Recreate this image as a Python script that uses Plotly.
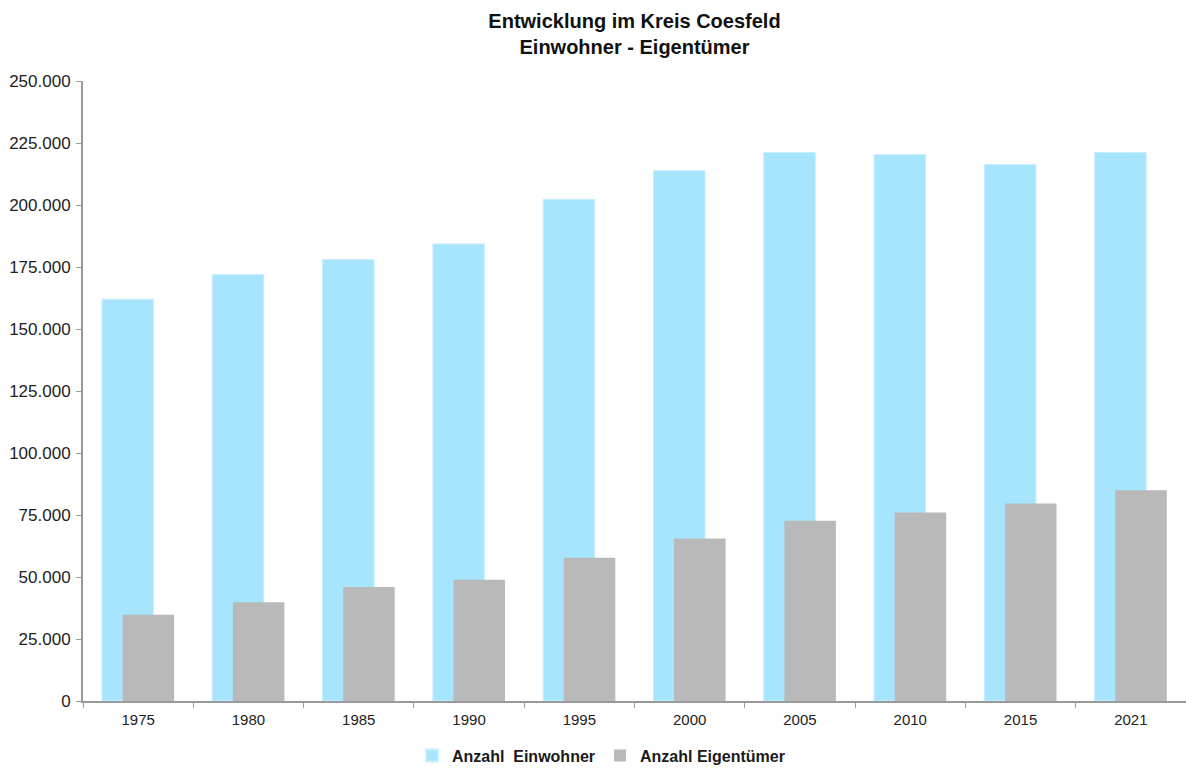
import plotly.graph_objects as go

# Einwohner and Eigentümer in Kreis Coesfeld
jahre = ["1975", "1980", "1985", "1990", "1995", "2000", "2005", "2010", "2015", "2021"]
einwohner = [162000, 172000, 178000, 184300, 202300, 213800, 221200, 220300, 216300, 221200]
eigentuemer = [34800, 39800, 46000, 48900, 57800, 65500, 72700, 76000, 79600, 85000]

blau = "#A7E4FE"
grau = "#B9B9B9"
font_family = "Liberation Sans, Arial, sans-serif"

fig = go.Figure()
fig.add_trace(go.Bar(
    x=jahre, y=einwohner, name="<b>Anzahl  Einwohner</b>",
    marker=dict(color=blau, line=dict(color="#C9EEFF", width=1)),
    width=0.467, offset=-0.328,
))
fig.add_trace(go.Bar(
    x=jahre, y=eigentuemer, name="<b>Anzahl Eigentümer</b>",
    marker=dict(color=grau, line=dict(width=0)),
    width=0.467, offset=-0.141,
))

fig.update_layout(
    width=1186, height=769,
    barmode="overlay",
    separators=",.",
    paper_bgcolor="white", plot_bgcolor="white",
    margin=dict(l=83, r=0, t=81, b=68, autoexpand=False),
    font=dict(family=font_family, color="#222"),
    title=dict(
        text="<b>Entwicklung im Kreis Coesfeld<br>Einwohner - Eigentümer</b>",
        x=0.5, xref="paper", xanchor="center",
        y=0.964, yref="container", yanchor="top",
        font=dict(size=20, color="#111", family=font_family),
    ),
    showlegend=True,
    legend=dict(
        orientation="h", x=0.47, xanchor="center", y=-0.088, yanchor="middle",
        font=dict(size=16, color="#1a1a1a", family=font_family),
        itemwidth=30, traceorder="normal", itemsizing="constant",
    ),
    xaxis=dict(
        type="category",
        range=[-0.5, 9.5],
        showline=True, linecolor="#9A9A9A", linewidth=2,
        ticks="outside", tickson="boundaries", ticklen=5, tickcolor="#9A9A9A",
        tickfont=dict(size=15, color="#222"),
        ticklabelstandoff=4,
        showgrid=False, zeroline=False,
    ),
    yaxis=dict(
        range=[0, 250000],
        tickvals=[0, 25000, 50000, 75000, 100000, 125000, 150000, 175000, 200000, 225000, 250000],
        tickformat=",d",
        showline=True, linecolor="#9A9A9A", linewidth=2,
        ticks="outside", ticklen=5, tickcolor="#9A9A9A",
        tickfont=dict(size=17, color="#222"),
        ticklabelstandoff=2,
        showgrid=False, zeroline=False,
    ),
)

fig.write_html("out.html")
